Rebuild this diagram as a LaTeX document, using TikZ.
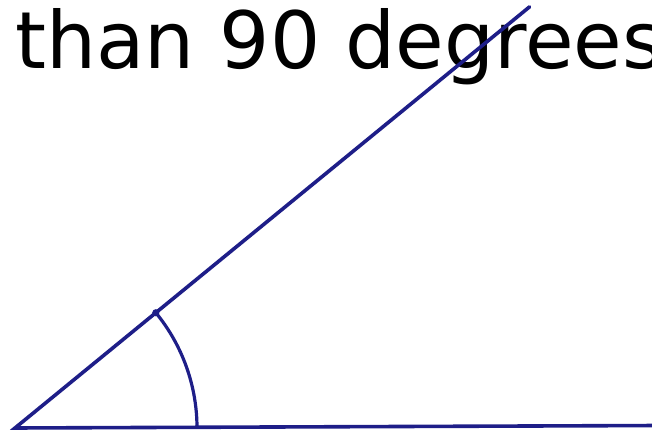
\documentclass[tikz,border=0pt]{standalone}
\usepackage{fontspec}
\setmainfont{DejaVu Sans}
\usepackage{xcolor}
\usetikzlibrary{calc}
\definecolor{anglenavy}{HTML}{1E1E88}

\begin{document}
\begin{tikzpicture}[
    x=1pt,y=1pt,
    ray/.style     = {anglenavy,line width=3.6pt,line cap=round},
    arcline/.style = {anglenavy,line width=3.2pt},
    caption/.style = {font=\fontsize{79}{95}\selectfont,anchor=base west,inner sep=0pt},
  ]
  \useasboundingbox (0,0) rectangle (652,435);

  \node[caption] (txt) at (15,366) {than 90 degrees};

  \coordinate (O) at (15,7);
  \coordinate (A) at ($(O)+(39.3:665)$);
  \coordinate (B) at (660,9.5);
  \coordinate (P) at ($(O)+(39.3:182)$);

  \draw[ray] (A) -- (O) -- (B);
  \draw[arcline] (P) arc[start angle=39.3,end angle=0,radius=182];
  \fill[anglenavy] (P) circle (3.6);

\end{tikzpicture}
\end{document}
